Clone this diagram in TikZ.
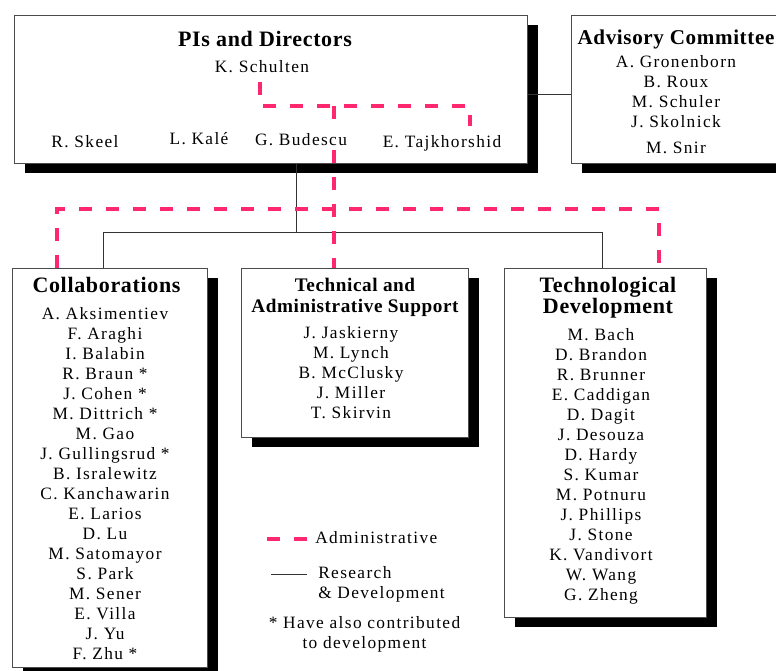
\documentclass[tikz,border=0pt]{standalone}
\usepackage{fontspec}
\setmainfont{Liberation Serif}[LetterSpace=8]
\newfontfamily\headfont{Liberation Serif}[LetterSpace=3]
\usepackage{tikz}
\usetikzlibrary{positioning,shadows}

\definecolor{adminpink}{RGB}{255,40,110}
\newcommand\namesize{\fontsize{13}{15}\selectfont}
\newcommand\headsize{\headfont\bfseries\fontsize{16.5}{15.5}\selectfont}
\newcommand\subheadsize{\headfont\bfseries\fontsize{14.4}{15.75}\selectfont}

\begin{document}
\begin{tikzpicture}[x=0.75pt, y=-0.75pt,
  box/.style={draw=black!70, line width=0.75pt, fill=white, anchor=north west, inner sep=0pt,
    drop shadow={shadow xshift=7.5pt, shadow yshift=-7pt, fill=black, opacity=1}},
  head/.style={anchor=base, inner sep=0pt, font=\headsize},
  subhead/.style={anchor=north, inner sep=0pt, align=center},
  person/.style={anchor=base, inner sep=3pt, font=\namesize},
  names/.style={anchor=north, inner sep=0pt, align=center, font=\namesize},
  keytext/.style={inner sep=0pt, font=\namesize},
  rd/.style={draw=black!80, line width=0.75pt},
  admin/.style={draw=adminpink, line width=3pt, dash pattern=on 9.75pt off 10.5pt}]
\clip (0,0) rectangle (776,671);

\node[box, minimum width=384.75pt, minimum height=111pt] (pis) at (14,15) {};
\node[box, minimum width=171.75pt, minimum height=111pt] (advisory) at (571,15) {};
\node[box, minimum width=146.25pt, minimum height=299.25pt] (collab) at (12,268) {};
\node[box, minimum width=170.25pt, minimum height=126.75pt] (techsup) at (241,268) {};
\node[box, minimum width=151.5pt, minimum height=261.75pt] (techdev) at (504,268) {};

\node[head] (pisT) at (265,46.5) {PIs and Directors};
\node[person] (schulten) at (262,72.4) {K. Schulten};
\node[person] (skeel) at (85,147.6) {R. Skeel};
\node[person] (kale) at (199,144.8) {L. Kalé};
\node[person] (budescu) at (301,145) {G. Budescu};
\node[person] (tajk) at (442,147) {E. Tajkhorshid};

\node[head, font=\headsize\fontsize{15.8}{15.5}\selectfont] (advT) at (676,45) {Advisory Committee};
\node[names] (advN) at (676,55) {A. Gronenborn\\B. Roux\\M. Schuler\\J. Skolnick\\[5pt]M. Snir};

\node[head] (collabT) at (106.5,292) {Collaborations};
\node[names] (collabN) at (105,307) {A. Aksimentiev\\F. Araghi\\I. Balabin\\R. Braun *\\J. Cohen *\\M. Dittrich *\\M. Gao\\J. Gullingsrud *\\B. Isralewitz\\C. Kanchawarin\\E. Larios\\D. Lu\\M. Satomayor\\S. Park\\M. Sener\\E. Villa\\J. Yu\\F. Zhu *};

\node[subhead, font=\subheadsize] (techsupT) at (355,278) {Technical and\\Administrative Support};
\node[names] (techsupN) at (351,326) {J. Jaskierny\\M. Lynch\\B. McClusky\\J. Miller\\T. Skirvin};

\node[subhead, font=\headsize] (techdevT) at (608,277.3) {Technological\\Development};
\node[names] (techdevN) at (601,328) {M. Bach\\D. Brandon\\R. Brunner\\E. Caddigan\\D. Dagit\\J. Desouza\\D. Hardy\\S. Kumar\\M. Potnuru\\J. Phillips\\J. Stone\\K. Vandivort\\W. Wang\\G. Zheng};

\coordinate (rd) at (296,232);
\coordinate (rdL) at (103,232);
\coordinate (rdR) at (602,232);
\draw[rd] ([yshift=-3.75pt]pis.east) -- ([yshift=-3.75pt]advisory.west);
\draw[rd] (pis.south -| rd) -- (rd);
\draw[rd] (collab.north -| rdL) -- (rdL) -- (rdR) -- (techdev.north -| rdR);

\coordinate (a1) at (260,106);
\coordinate (a2) at (470,106);
\coordinate (a3) at (334,106);
\coordinate (a4) at (334,209);
\coordinate (aL) at (57,209);
\coordinate (aR) at (659,209);
\draw[admin] ([yshift=-4pt]schulten.south -| a1) -- (a1) -- (a2) -- ([yshift=3.75pt]tajk.north -| a2);
\draw[admin] (a3) -- ([yshift=2pt]budescu.north -| a3);
\draw[admin] (budescu.south -| a3) -- (a4) -- (techsup.north -| a4);
\draw[admin] (collab.north -| aL) -- (aL) -- (aR) -- (techdev.north -| aR);

\coordinate (keyA1) at (267,539);
\coordinate (keyA2) at (307,539);
\coordinate (keyR1) at (271,574);
\coordinate (keyR2) at (307,574);
\draw[admin] (keyA1) -- (keyA2);
\draw[rd] (keyR1) -- (keyR2);
\node[keytext, anchor=base west] (keyAdmin) at (315,543) {Administrative};
\node[keytext, anchor=north west, align=left] (keyRD) at (318,566) {Research\\\& Development};
\node[keytext, anchor=north, align=center] (keyStar) at (364.5,616) {* Have also contributed\\to development};
\end{tikzpicture}
\end{document}
